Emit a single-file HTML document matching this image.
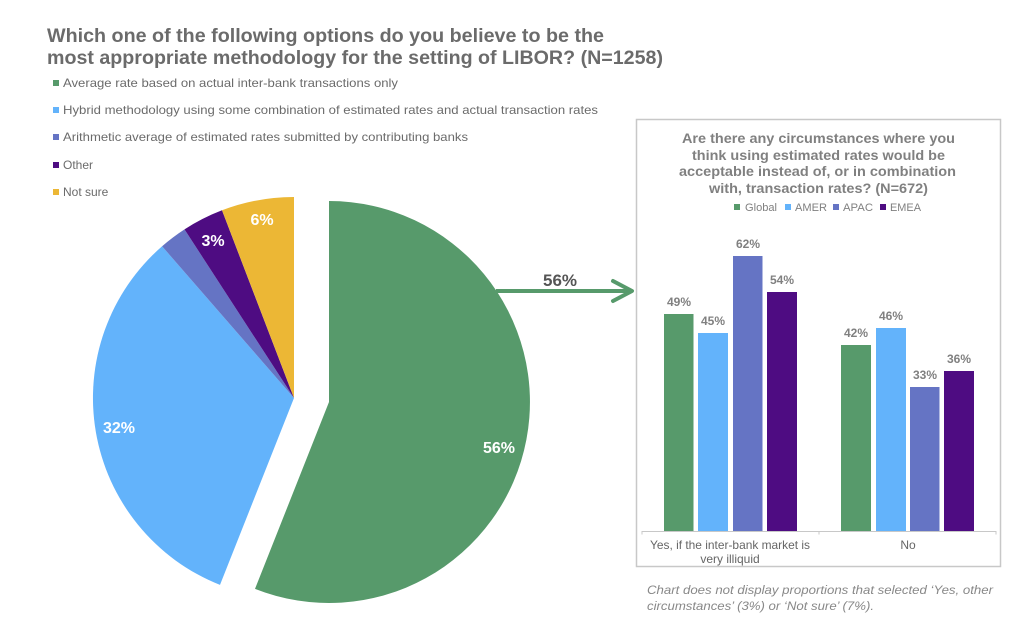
<!DOCTYPE html>
<html><head><meta charset="utf-8"><style>
html,body{margin:0;padding:0;background:#fff;}
svg{display:block;font-family:"Liberation Sans",Arial,sans-serif;}
</style></head><body>
<svg width="1024" height="626" viewBox="0 0 1024 626" xmlns="http://www.w3.org/2000/svg">
<rect width="1024" height="626" fill="#fff"/>
<!-- Title -->
<text x="47" y="42" font-size="19" font-weight="bold" fill="#6b6b6b" textLength="557" lengthAdjust="spacingAndGlyphs">Which one of the following options do you believe to be the</text>
<text x="47" y="64" font-size="19" font-weight="bold" fill="#6b6b6b" textLength="616" lengthAdjust="spacingAndGlyphs">most appropriate methodology for the setting of LIBOR? (N=1258)</text>
<!-- Legend -->
<g font-size="12" fill="#6b6b6b">
<rect x="53" y="80" width="6" height="6" fill="#579a6b"/><text x="63" y="87" textLength="335" lengthAdjust="spacingAndGlyphs">Average rate based on actual inter-bank transactions only</text>
<rect x="53" y="107" width="6" height="6" fill="#63b3fb"/><text x="63" y="114" textLength="535" lengthAdjust="spacingAndGlyphs">Hybrid methodology using some combination of estimated rates and actual transaction rates</text>
<rect x="53" y="134" width="6" height="6" fill="#6574c4"/><text x="63" y="141" textLength="405" lengthAdjust="spacingAndGlyphs">Arithmetic average of estimated rates submitted by contributing banks</text>
<rect x="53" y="162" width="6" height="6" fill="#4e0c82"/><text x="63" y="169">Other</text>
<rect x="53" y="189" width="6" height="6" fill="#ecb735"/><text x="63" y="196">Not sure</text>
</g>
<!-- Pie -->
<g transform="translate(329,402)">
<path d="M0,0 L0,-201 A201,201 0 1 1 -74,186.9 Z" fill="#579a6b"/>
</g>
<g transform="translate(294,398)">
<path d="M0,0 L-74,186.9 A201,201 0 0 1 -131.9,-151.7 Z" fill="#63b3fb"/>
<path d="M0,0 L-131.9,-151.7 A201,201 0 0 1 -109.5,-168.6 Z" fill="#6574c4"/>
<path d="M0,0 L-109.5,-168.6 A201,201 0 0 1 -72,-187.7 Z" fill="#4e0c82"/>
<path d="M0,0 L-72,-187.7 A201,201 0 0 1 0,-201 Z" fill="#ecb735"/>
</g>
<g font-size="16" font-weight="bold" fill="#fff" text-anchor="middle">
<text x="499" y="453">56%</text>
<text x="119" y="433">32%</text>
<text x="213" y="246">3%</text>
<text x="262" y="225">6%</text>
</g>
<!-- Arrow -->
<line x1="496" y1="291" x2="630" y2="291" stroke="#579a6b" stroke-width="4"/>
<polyline points="613,281 632,291 613,301" fill="none" stroke="#579a6b" stroke-width="4" stroke-linecap="round" stroke-linejoin="round"/>
<text x="560" y="286" font-size="17" font-weight="bold" fill="#555" text-anchor="middle">56%</text>
<!-- Bar chart box -->
<rect x="636.5" y="119.5" width="364" height="447" fill="#fff" stroke="#c8c8c8" stroke-width="1.5"/>
<g font-size="13.5" font-weight="bold" fill="#808080">
<text x="682" y="143" textLength="273" lengthAdjust="spacingAndGlyphs">Are there any circumstances where you</text>
<text x="692" y="160" textLength="253" lengthAdjust="spacingAndGlyphs">think using estimated rates would be</text>
<text x="679" y="176" textLength="277" lengthAdjust="spacingAndGlyphs">acceptable instead of, or in combination</text>
<text x="709" y="193" textLength="219" lengthAdjust="spacingAndGlyphs">with, transaction rates? (N=672)</text>
</g>
<g font-size="11" fill="#808080">
<rect x="734" y="204" width="6" height="6" fill="#579a6b"/><text x="745" y="211" textLength="32" lengthAdjust="spacingAndGlyphs">Global</text>
<rect x="785" y="204" width="6" height="6" fill="#63b3fb"/><text x="795" y="211" textLength="32" lengthAdjust="spacingAndGlyphs">AMER</text>
<rect x="833" y="204" width="6" height="6" fill="#6574c4"/><text x="843" y="211" textLength="30" lengthAdjust="spacingAndGlyphs">APAC</text>
<rect x="880" y="204" width="6" height="6" fill="#4e0c82"/><text x="890" y="211" textLength="31" lengthAdjust="spacingAndGlyphs">EMEA</text>
</g>
<!-- Bars -->
<rect x="664" y="314" width="29.5" height="217" fill="#579a6b"/>
<rect x="698" y="333" width="30" height="198" fill="#63b3fb"/>
<rect x="733" y="256" width="29.5" height="275" fill="#6574c4"/>
<rect x="767" y="292" width="30" height="239" fill="#4e0c82"/>
<rect x="841" y="345" width="30" height="186" fill="#579a6b"/>
<rect x="876" y="328" width="30" height="203" fill="#63b3fb"/>
<rect x="910" y="387" width="29.5" height="144" fill="#6574c4"/>
<rect x="944" y="371" width="30" height="160" fill="#4e0c82"/>
<g font-size="12" font-weight="bold" fill="#808080" text-anchor="middle">
<text x="679" y="306">49%</text>
<text x="713" y="325">45%</text>
<text x="748" y="248">62%</text>
<text x="782" y="284">54%</text>
<text x="856" y="337">42%</text>
<text x="891" y="320">46%</text>
<text x="925" y="379">33%</text>
<text x="959" y="363">36%</text>
</g>
<!-- Axis -->
<path d="M642,534.5 V531.5 H996 V534.5 M819,531.5 V534.5" fill="none" stroke="#c8c8c8" stroke-width="1"/>
<g font-size="12" fill="#666" text-anchor="middle">
<text x="730" y="549" textLength="160" lengthAdjust="spacingAndGlyphs">Yes, if the inter-bank market is</text>
<text x="730" y="563">very illiquid</text>
<text x="908" y="549">No</text>
</g>
<g font-size="12" font-style="italic" fill="#888">
<text x="647" y="594" textLength="346" lengthAdjust="spacingAndGlyphs">Chart does not display proportions that selected ‘Yes, other</text>
<text x="647" y="610" textLength="227" lengthAdjust="spacingAndGlyphs">circumstances’ (3%) or ‘Not sure’ (7%).</text>
</g>
</svg>
</body></html>
